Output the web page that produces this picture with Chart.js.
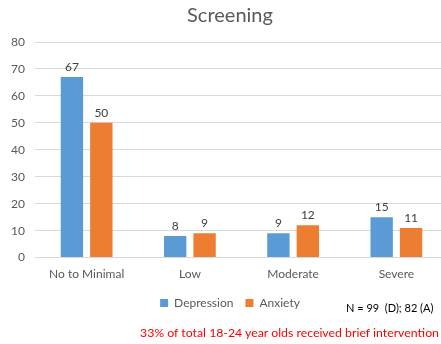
<!DOCTYPE html>
<html>
<head>
<meta charset="utf-8">
<script src="https://cdn.jsdelivr.net/npm/chart.js@4/dist/chart.umd.min.js"></script>
<style>
  html, body { margin: 0; padding: 0; background: #fff; overflow: hidden; }
  #wrap { position: relative; width: 441px; height: 344px; overflow: hidden; }
  #c { position: absolute; left: 0; top: 0; }
  .note { position: absolute; font-family: Lato, "Liberation Sans", sans-serif; white-space: nowrap; }
  #n { left: 346px; top: 301px; font-size: 11px; color: #000; }
  #red { left: 140px; top: 325px; font-size: 12.3px; color: #ff0000; }
</style>
</head>
<body>
<div id="wrap">
  <canvas id="c" width="460" height="344"></canvas>
  <div class="note" id="n">N = 99 &nbsp;(D); 82 (A)</div>
  <div class="note" id="red">33% of total 18-24 year olds received brief intervention</div>
</div>
<script>
const categories = ["No to Minimal", "Low", "Moderate", "Severe"];
const depression = [67, 8, 9, 15];
const anxiety = [50, 9, 12, 11];
const yTicks = [0, 10, 20, 30, 40, 50, 60, 70, 80];

const FONT = 'Lato, "Liberation Sans", sans-serif';

const valueLabels = {
  id: 'valueLabels',
  afterDatasetsDraw(chart) {
    const ctx = chart.ctx;
    ctx.save();
    ctx.font = '12px ' + FONT;
    ctx.fillStyle = '#404040';
    ctx.textAlign = 'center';
    ctx.textBaseline = 'bottom';
    chart.data.datasets.forEach((ds, i) => {
      chart.getDatasetMeta(i).data.forEach((bar, j) => {
        ctx.fillText(String(ds.data[j]), bar.x, bar.y - 4);
      });
    });
    ctx.restore();
  }
};

new Chart(document.getElementById('c'), {
  type: 'bar',
  data: {
    labels: categories,
    datasets: [
      { label: 'Depression', data: depression, backgroundColor: '#5B9BD5', barPercentage: 0.76, categoryPercentage: 0.57 },
      { label: 'Anxiety', data: anxiety, backgroundColor: '#ED7D31', barPercentage: 0.76, categoryPercentage: 0.57 }
    ]
  },
  options: {
    responsive: false,
    animation: false,
    layout: { padding: { left: 12, right: 12, top: 4, bottom: 25 } },
    plugins: {
      title: {
        display: true,
        text: 'Screening',
        color: '#595959',
        font: { family: FONT, size: 20, weight: 'normal' },
        padding: { top: 0, bottom: 14 }
      },
      legend: {
        position: 'bottom',
        labels: {
          color: '#595959',
          font: { family: FONT, size: 12 },
          boxWidth: 8,
          boxHeight: 8,
          padding: 12
        }
      },
      tooltip: { enabled: false }
    },
    scales: {
      x: {
        grid: { display: false },
        border: { display: false },
        ticks: { color: '#595959', font: { family: FONT, size: 12 }, padding: 1 },
        afterFit(axis) { axis.height += 3; }
      },
      y: {
        min: 0,
        max: 80,
        afterBuildTicks(axis) { axis.ticks = yTicks.map(v => ({ value: v })); },
        grid: { color: '#d9d9d9', drawTicks: false },
        border: { display: false },
        ticks: { color: '#595959', font: { family: FONT, size: 12 }, padding: 10 },
        afterFit(axis) { axis.width = 23; },
        afterUpdate(axis) { axis._computeLabelArea = () => undefined; }
      }
    }
  },
  plugins: [valueLabels]
});
</script>
</body>
</html>
